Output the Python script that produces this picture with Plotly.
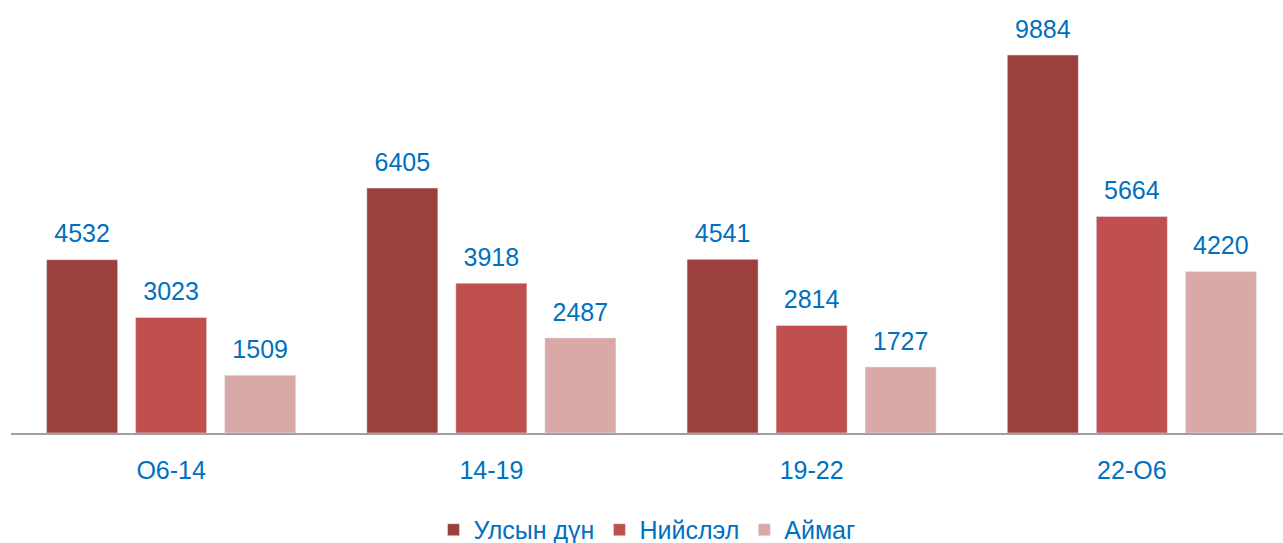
import plotly.graph_objects as go

categories = ["О6-14", "14-19", "19-22", "22-О6"]
series_names = ["Улсын дүн", "Нийслэл", "Аймаг"]
uls = [4532, 6405, 4541, 9884]
niislel = [3023, 3918, 2814, 5664]
aimag = [1509, 2487, 1727, 4220]
values = [uls, niislel, aimag]
colors = ["#9C403E", "#C0504D", "#D9A9A8"]

FONT = "Liberation Sans, Arial, sans-serif"
FS = 25
TXT = "#0070C0"

fig = go.Figure()
for i, (name, vals, col) in enumerate(zip(series_names, values, colors)):
    fig.add_trace(go.Bar(x=categories, y=vals, name=name, marker_color=col,
                         offsetgroup=str(i), hoverinfo="skip"))
for i, (name, vals) in enumerate(zip(series_names, values)):
    fig.add_trace(go.Scatter(x=categories, y=vals, mode="markers+text", text=[str(v) for v in vals],
                             textposition="top center", offsetgroup=str(i),
                             marker=dict(size=16, opacity=0), showlegend=False, cliponaxis=False,
                             textfont=dict(family=FONT, size=FS, color=TXT), hoverinfo="skip"))

fig.update_layout(
    width=1283, height=543,
    margin=dict(l=11, r=0, t=0, b=110, autoexpand=False),
    barmode="group", bargap=0.166, bargroupgap=0.202,
    scattermode="group", scattergap=0.166,
    plot_bgcolor="white", paper_bgcolor="white",
    font=dict(family=FONT, size=FS, color=TXT),
    showlegend=True,
    legend=dict(orientation="h", x=0.5, xanchor="center", y=-0.224, yanchor="middle",
                font=dict(family=FONT, size=FS, color=TXT), itemclick=False),
    xaxis=dict(showline=True, linecolor="#A0A0A0", linewidth=2, ticks="", showgrid=False,
               range=[-0.5, 3.472], tickfont=dict(family=FONT, size=FS, color=TXT),
               ticklabelstandoff=14, automargin=False),
    yaxis=dict(visible=False, range=[0, 11323], showgrid=False, zeroline=False),
)
fig.write_html("out.html", config={"displayModeBar": False},
               post_script="document.body.style.margin='0';")
